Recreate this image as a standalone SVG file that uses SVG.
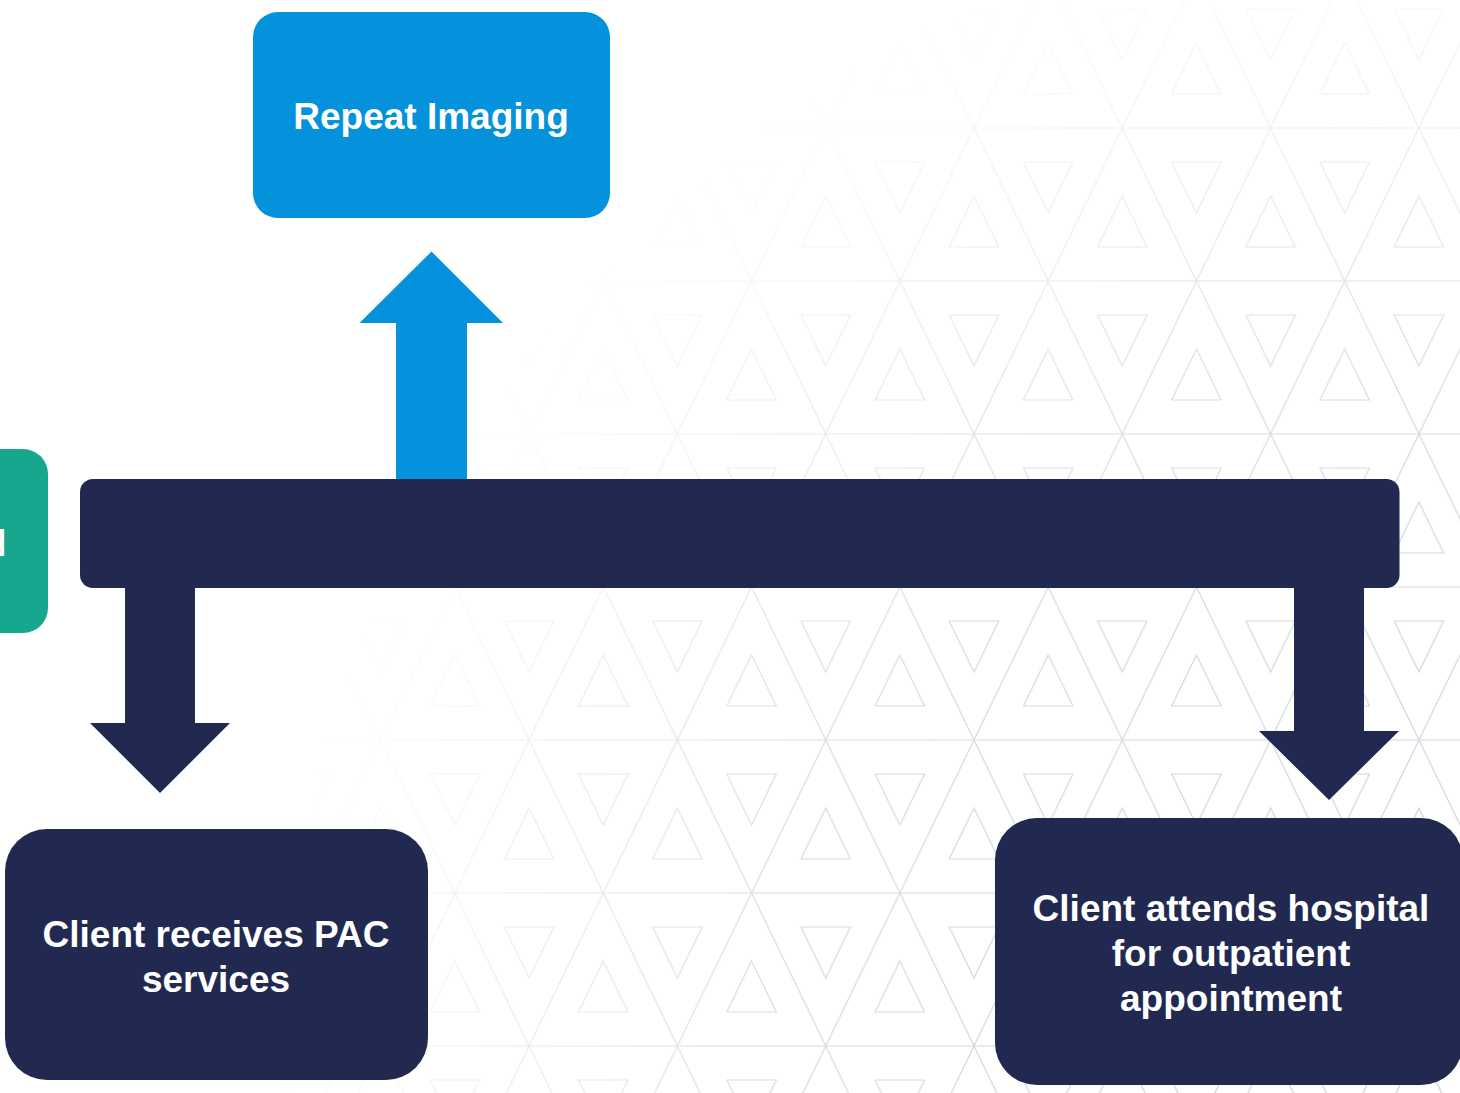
<svg xmlns="http://www.w3.org/2000/svg" width="1460" height="1093" viewBox="0 0 1460 1093">
  <style>
    .lbl { font-family: "Liberation Sans", Arial, Helvetica, sans-serif; font-weight: bold; font-size: 37px; fill: #ffffff; text-anchor: middle; }
    .pat { fill: none; stroke: #cdd0dc; stroke-width: 1.2; }
    .navy { fill: #212951; }
    .blue { fill: #0392db; }
    .teal { fill: #17a78e; }
  </style>
  <defs>
    <pattern id="tri" patternUnits="userSpaceOnUse" x="974" y="128" width="148.3" height="306">
      <path class="pat" d="M0 0H148.3M0 153H148.3M0 306H148.3M0 0L74.15 153L0 306M148.3 0L74.15 153L148.3 306"/>
      <polygon class="pat" points="49.43,34 98.87,34 74.15,85"/>
      <polygon class="pat" points="0,68 24.72,119 -24.72,119"/>
      <polygon class="pat" points="148.3,68 173.02,119 123.58,119"/>
      <polygon class="pat" points="74.15,221 98.87,272 49.43,272"/>
      <polygon class="pat" points="-24.72,187 24.72,187 0,238"/>
      <polygon class="pat" points="123.58,187 173.02,187 148.3,238"/>
    </pattern>
    <radialGradient id="fadeG" gradientUnits="userSpaceOnUse" cx="1460" cy="1093" r="1190">
      <stop offset="0" stop-color="#ffffff"/>
      <stop offset="0.6" stop-color="#c0c0c0"/>
      <stop offset="1" stop-color="#000000"/>
    </radialGradient>
    <mask id="fade">
      <rect x="0" y="0" width="1460" height="1093" fill="url(#fadeG)"/>
    </mask>
  </defs>

  <rect x="0" y="0" width="1460" height="1093" fill="#ffffff"/>
  <rect x="0" y="0" width="1460" height="1093" fill="url(#tri)" mask="url(#fade)"/>

  <g id="connectors">
    <polygon id="arrow-up" class="blue" points="396,480 396,323 359.5,323 431.5,251.5 503,323 467,323 467,480"/>
    <polygon id="arrow-left-down" class="navy" points="125,586 195,586 195,723 230,723 160,793 90,723 125,723"/>
    <polygon id="arrow-right-down" class="navy" points="1294,586 1364,586 1364,731 1399,731 1329,800 1259,731 1294,731"/>
    <rect id="hub-bar" class="navy" x="80" y="479" width="1319.5" height="109" rx="13" ry="13"/>
  </g>

  <g id="node-teal">
    <rect class="teal" x="-200" y="449" width="248" height="184" rx="25" ry="25"/>
    <text class="lbl" x="-3.8" y="556" style="text-anchor:start">l</text>
  </g>

  <g id="node-repeat-imaging">
    <rect class="blue" x="253" y="12" width="357" height="206" rx="25" ry="25"/>
    <text class="lbl" x="431" y="129">Repeat Imaging</text>
  </g>

  <g id="node-pac">
    <rect class="navy" x="5" y="829" width="423" height="251" rx="42" ry="42"/>
    <text class="lbl" x="216" y="947">Client receives PAC</text>
    <text class="lbl" x="216" y="992">services</text>
  </g>

  <g id="node-outpatient">
    <rect class="navy" x="995" y="818" width="468" height="267" rx="42" ry="42"/>
    <text class="lbl" x="1231" y="921">Client attends hospital</text>
    <text class="lbl" x="1231" y="966">for outpatient</text>
    <text class="lbl" x="1231" y="1011">appointment</text>
  </g>
</svg>
